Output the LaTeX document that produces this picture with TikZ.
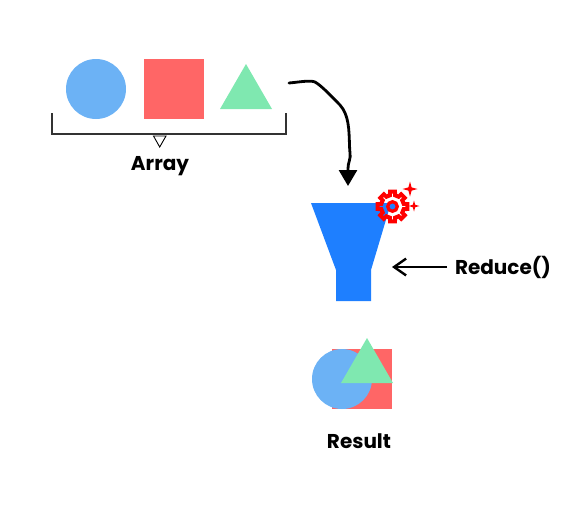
\documentclass[tikz,border=0pt]{standalone}
\usepackage{fontspec}
\setmainfont{Poppins}
\usetikzlibrary{arrows.meta}
\usetikzlibrary{positioning}
\definecolor{bleuclair}{HTML}{6CB2F5}
\definecolor{rouge}{HTML}{FF6666}
\definecolor{vert}{HTML}{7FE8B0}
\definecolor{bleu}{HTML}{1E7FFF}
\tikzstyle{rond}=[circle,fill=bleuclair,minimum size=60pt,inner sep=0pt]
\tikzstyle{carre}=[rectangle,fill=rouge,minimum size=60pt,inner sep=0pt]
\tikzstyle{tri}=[fill=vert]
\tikzstyle{titre}=[font=\bfseries\fontsize{20}{22}\selectfont,text=black,inner sep=0pt]
\tikzstyle{crochet}=[draw=black!80,line width=1.2pt]
\tikzstyle{suite}=[-{Straight Barb[length=12pt,width=20pt,angle'=70]},line width=2.4pt]
\begin{document}
\begin{tikzpicture}[x=1pt,y=-1pt]
\useasboundingbox (0,0) rectangle (575,523);
\node[rond] (cercle) at (96,89) {};
\node[carre] (carre) at (174,89) {};
\fill[tri] (220,109) -- (272,109) -- (246,64) -- cycle;
%crochet
\draw[crochet] (52,113) -- (52,134) -- (286,134) -- (286,113);
\draw[black,line width=0.9pt] (153.5,136) -- (166,136) -- (159.7,147) -- cycle;
\node[titre] (tableau) at (160,166.5) {Array};
%entonnoir
\fill[bleu] (311,203) -- (391,203) -- (371,270) -- (371,301) -- (336,301) -- (336,270) -- cycle;
%engrenage
\begin{scope}[shift={(392.5,206.5)}]
\draw[red,line width=4pt,line join=miter]
  (-13:11.5) \foreach \a in {0,45,...,315} {
    -- (\a-9.5:15) -- (\a+9.5:15) -- (\a+13:11.5) -- (\a+32:11.5)
  } -- cycle;
\draw[red,fill=bleu,line width=3.2pt] (0,0) circle (4.8);
\end{scope}
\fill[red] (410,181.5) -- (411.6,187.4) -- (417.5,189) -- (411.6,190.6) -- (410,196.5) -- (408.4,190.6) -- (402.5,189) -- (408.4,187.4) -- cycle;
\fill[red] (414,200.5) -- (415.2,204.8) -- (419.5,206) -- (415.2,207.2) -- (414,211.5) -- (412.8,207.2) -- (408.5,206) -- (412.8,204.8) -- cycle;
%resultat
\node[carre] (carre2) at (362,379) {};
\node[rond] (cercle2) at (342,379) {};
\fill[tri] (341,383) -- (393,383) -- (367,338) -- cycle;
\node[titre] (resultat) at (359,441) {Result};
\node[titre] (reduce) at (503,267.5) {Reduce()};
%fleches
\coordinate (depart) at (289,83);
\coordinate (pointe) at (348,186);
\coordinate (entree) at (392,267);
\draw[line width=2.8pt,line cap=round,-{Triangle[length=16pt,width=18pt]}] (depart) .. controls (300,82) and (310,80) .. (315,82)
  .. controls (322,86) and (332,97) .. (340,105) .. controls (349,115) and (349,130) .. (349.5,145) .. controls (349.5,152) and (351,156) .. (349.5,160) .. controls (348.5,163) and (348,166) .. (pointe);
\draw[suite] (447,267) -- (entree);
\end{tikzpicture}
\end{document}
